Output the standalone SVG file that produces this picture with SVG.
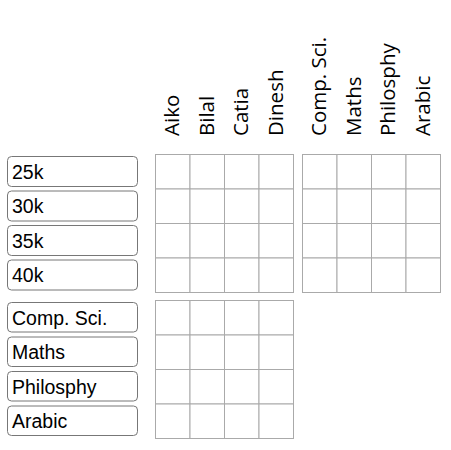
<svg xmlns="http://www.w3.org/2000/svg" width="451" height="450" viewBox="0 0 451 450">
<style>
.bg{fill:#ffffff}
.lbl rect{fill:#ffffff;stroke:#777777;stroke-width:1}
.lbl text{font-family:"Liberation Sans",Arial,sans-serif;font-size:19.5px;fill:#000000}
.col text{font-family:"Open Sans","Noto Sans",sans-serif;font-size:20.5px;fill:#000000}
.grid rect{fill:#ffffff;stroke:#aaaaaa;stroke-width:1}
</style>
<rect class="bg" x="0" y="0" width="451" height="450"/>
<g id="columns" class="col">
<g id="col-aiko"><text transform="translate(179,136) rotate(-90)">Aiko</text></g>
<g id="col-bilal"><text transform="translate(213.5,136) rotate(-90)">Bilal</text></g>
<g id="col-catia"><text transform="translate(248,136) rotate(-90)">Catia</text></g>
<g id="col-dinesh"><text transform="translate(282.5,136) rotate(-90)">Dinesh</text></g>
<g id="col-compsci"><text transform="translate(326,136) rotate(-90)">Comp. Sci.</text></g>
<g id="col-maths"><text transform="translate(360.5,136) rotate(-90)">Maths</text></g>
<g id="col-philosphy"><text transform="translate(395,136) rotate(-90)">Philosphy</text></g>
<g id="col-arabic"><text transform="translate(429.5,136) rotate(-90)">Arabic</text></g>
</g>
<g id="rows" class="lbl">
<g id="row-25k"><rect x="7.5" y="156.5" width="130" height="30" rx="4"/><text x="12" y="178.5">25k</text></g>
<g id="row-30k"><rect x="7.5" y="191" width="130" height="30" rx="4"/><text x="12" y="213">30k</text></g>
<g id="row-35k"><rect x="7.5" y="225.5" width="130" height="30" rx="4"/><text x="12" y="247.5">35k</text></g>
<g id="row-40k"><rect x="7.5" y="260" width="130" height="30" rx="4"/><text x="12" y="282">40k</text></g>
<g id="row-compsci"><rect x="7.5" y="302.5" width="130" height="29.5" rx="4"/><text x="12" y="324.5">Comp. Sci.</text></g>
<g id="row-maths"><rect x="7.5" y="337" width="130" height="29.5" rx="4"/><text x="12" y="359">Maths</text></g>
<g id="row-philosphy"><rect x="7.5" y="371.5" width="130" height="29.5" rx="4"/><text x="12" y="393.5">Philosphy</text></g>
<g id="row-arabic"><rect x="7.5" y="406" width="130" height="29.5" rx="4"/><text x="12" y="428">Arabic</text></g>
</g>
<g id="grid-top-left" class="grid">
<rect x="155.5" y="154.5" width="34.5" height="34.5"/><rect x="190" y="154.5" width="34.5" height="34.5"/><rect x="224.5" y="154.5" width="34.5" height="34.5"/><rect x="259" y="154.5" width="34.5" height="34.5"/>
<rect x="155.5" y="189" width="34.5" height="34.5"/><rect x="190" y="189" width="34.5" height="34.5"/><rect x="224.5" y="189" width="34.5" height="34.5"/><rect x="259" y="189" width="34.5" height="34.5"/>
<rect x="155.5" y="223.5" width="34.5" height="34.5"/><rect x="190" y="223.5" width="34.5" height="34.5"/><rect x="224.5" y="223.5" width="34.5" height="34.5"/><rect x="259" y="223.5" width="34.5" height="34.5"/>
<rect x="155.5" y="258" width="34.5" height="34.5"/><rect x="190" y="258" width="34.5" height="34.5"/><rect x="224.5" y="258" width="34.5" height="34.5"/><rect x="259" y="258" width="34.5" height="34.5"/>
</g>
<g id="grid-top-right" class="grid">
<rect x="302.5" y="154.5" width="34.5" height="34.5"/><rect x="337" y="154.5" width="34.5" height="34.5"/><rect x="371.5" y="154.5" width="34.5" height="34.5"/><rect x="406" y="154.5" width="34.5" height="34.5"/>
<rect x="302.5" y="189" width="34.5" height="34.5"/><rect x="337" y="189" width="34.5" height="34.5"/><rect x="371.5" y="189" width="34.5" height="34.5"/><rect x="406" y="189" width="34.5" height="34.5"/>
<rect x="302.5" y="223.5" width="34.5" height="34.5"/><rect x="337" y="223.5" width="34.5" height="34.5"/><rect x="371.5" y="223.5" width="34.5" height="34.5"/><rect x="406" y="223.5" width="34.5" height="34.5"/>
<rect x="302.5" y="258" width="34.5" height="34.5"/><rect x="337" y="258" width="34.5" height="34.5"/><rect x="371.5" y="258" width="34.5" height="34.5"/><rect x="406" y="258" width="34.5" height="34.5"/>
</g>
<g id="grid-bottom-left" class="grid">
<rect x="155.5" y="300.5" width="34.5" height="34.5"/><rect x="190" y="300.5" width="34.5" height="34.5"/><rect x="224.5" y="300.5" width="34.5" height="34.5"/><rect x="259" y="300.5" width="34.5" height="34.5"/>
<rect x="155.5" y="335" width="34.5" height="34.5"/><rect x="190" y="335" width="34.5" height="34.5"/><rect x="224.5" y="335" width="34.5" height="34.5"/><rect x="259" y="335" width="34.5" height="34.5"/>
<rect x="155.5" y="369.5" width="34.5" height="34.5"/><rect x="190" y="369.5" width="34.5" height="34.5"/><rect x="224.5" y="369.5" width="34.5" height="34.5"/><rect x="259" y="369.5" width="34.5" height="34.5"/>
<rect x="155.5" y="404" width="34.5" height="34.5"/><rect x="190" y="404" width="34.5" height="34.5"/><rect x="224.5" y="404" width="34.5" height="34.5"/><rect x="259" y="404" width="34.5" height="34.5"/>
</g>
<g id="connectors"/>
</svg>
